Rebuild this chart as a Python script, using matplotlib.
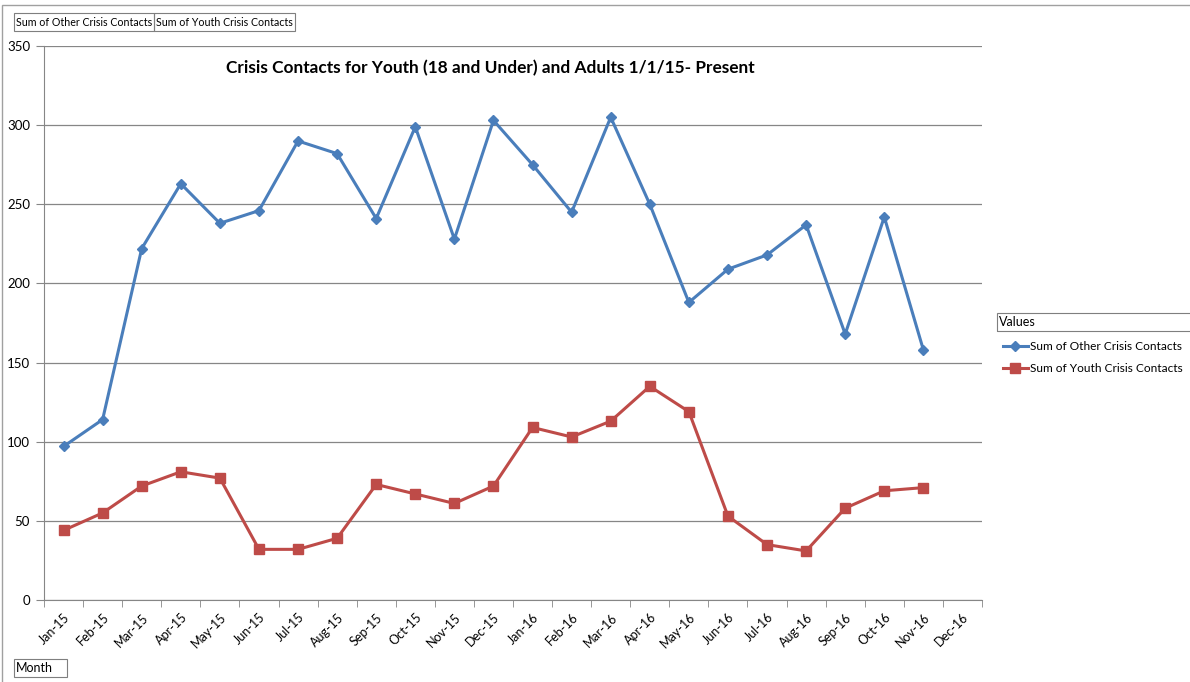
import numpy as np
import matplotlib
matplotlib.use("Agg")
import matplotlib.pyplot as plt
from matplotlib.patches import Rectangle
from matplotlib.lines import Line2D

plt.rcParams["font.family"] = ["Lato", "DejaVu Sans"]

months = ["Jan-15", "Feb-15", "Mar-15", "Apr-15", "May-15", "Jun-15", "Jul-15", "Aug-15",
          "Sep-15", "Oct-15", "Nov-15", "Dec-15", "Jan-16", "Feb-16", "Mar-16", "Apr-16",
          "May-16", "Jun-16", "Jul-16", "Aug-16", "Sep-16", "Oct-16", "Nov-16", "Dec-16"]
other = [97, 114, 222, 263, 238, 246, 290, 282, 241, 299, 228, 303,
         275, 245, 305, 250, 188, 209, 218, 237, 168, 242, 158]
youth = [44, 55, 72, 81, 77, 32, 32, 39, 73, 67, 61, 72,
         109, 103, 113, 135, 119, 53, 35, 31, 58, 69, 71]

BLUE = "#4a7ebb"
RED = "#be4b48"
GRID = "#868686"

fig = plt.figure(figsize=(11.9, 6.82), dpi=100)
ax = fig.add_axes([44 / 1190, 1 - 600 / 682, (982 - 44) / 1190, (600 - 46) / 682])

x = np.arange(len(months))
ax.plot(x[:len(other)], other, color=BLUE, lw=2.2, marker="D", ms=5.5,
        label="Sum of Other Crisis Contacts")
ax.plot(x[:len(youth)], youth, color=RED, lw=2.2, marker="s", ms=6.5,
        label="Sum of Youth Crisis Contacts")

ax.set_xlim(-0.5, len(months) - 0.5)
ax.set_ylim(0, 350)
ax.set_yticks(range(0, 351, 50))
ax.yaxis.grid(True, color=GRID, lw=0.9)
ax.set_axisbelow(True)

ax.set_xticks(x)
ax.set_xticklabels(months, rotation=45, ha="right", rotation_mode="anchor", fontsize=9)
ax.set_xticks(np.arange(-0.5, len(months), 1), minor=True)
ax.tick_params(axis="x", which="major", length=0, pad=8)
ax.tick_params(axis="x", which="minor", length=5, color=GRID, direction="out")
ax.tick_params(axis="y", length=6, color=GRID, labelsize=9.5, pad=4)

for side in ["top", "right"]:
    ax.spines[side].set_visible(False)
for side in ["left", "bottom"]:
    ax.spines[side].set_color(GRID)

fig.text(490 / 1190, 1 - 68 / 682, "Crisis Contacts for Youth (18 and Under) and Adults 1/1/15- Present",
         ha="center", va="center", fontsize=12.4, fontweight="bold")

# outer chart border
fig.add_artist(Rectangle((2 / 1190, -0.01), 1.2, 1 - 5 / 682 + 0.01, transform=fig.transFigure,
                         fill=False, ec="#a0a0a0", lw=1))

# field buttons
def button(x0, y0, w, h, text, size=7.7):
    fig.add_artist(Rectangle((x0 / 1190, 1 - (y0 + h) / 682), w / 1190, h / 682,
                             transform=fig.transFigure, fill=False, ec="#7f7f7f", lw=0.8))
    fig.text((x0 + 1.5) / 1190, 1 - (y0 + h / 2) / 682, text, ha="left", va="center", fontsize=size)

button(14, 13, 140, 18, "Sum of Other Crisis Contacts")
button(154, 13, 141, 18, "Sum of Youth Crisis Contacts")
button(14, 659, 53, 18, "Month", 9)
button(997, 313, 195, 18, "Values", 9)

handles = [Line2D([], [], color=BLUE, lw=2.2, marker="D", ms=5.5),
           Line2D([], [], color=RED, lw=2.2, marker="s", ms=6.5)]
fig.legend(handles, ["Sum of Other Crisis Contacts", "Sum of Youth Crisis Contacts"],
           loc="upper left", bbox_to_anchor=(992 / 1190, 1 - 330 / 682), frameon=False,
           fontsize=8.6, handlelength=2.1, handletextpad=0.15, labelspacing=0.95)

fig.savefig("out.png", dpi=100)
